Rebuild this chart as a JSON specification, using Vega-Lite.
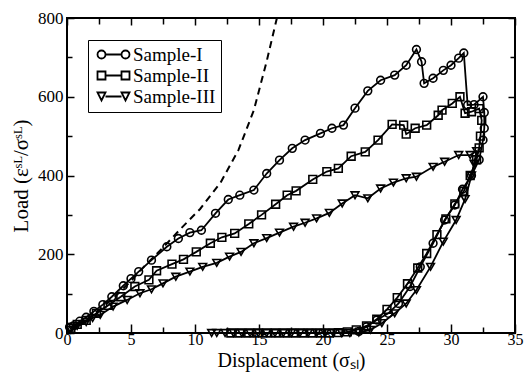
{
  "$schema": "https://vega.github.io/schema/vega-lite/v6.json",
  "autosize": {"type": "none"},
  "padding": {"left": 67, "top": 18, "right": 10, "bottom": 41},
  "width": 448,
  "height": 315,
  "background": "white",
  "config": {
    "view": {"stroke": "black", "strokeWidth": 2},
    "axis": {
      "labelFont": "Liberation Serif, Times New Roman, serif", "labelFontSize": 17, "labelColor": "black",
      "titleFont": "Liberation Serif, Times New Roman, serif", "titleFontSize": 21, "titleFontWeight": "normal", "titleColor": "black",
      "tickColor": "black", "tickWidth": 1.5, "domain": false, "grid": false,
      "labelFlush": false, "labelOverlap": false
    },
    "legend": {
      "labelFont": "Liberation Serif, Times New Roman, serif", "labelFontSize": 19, "labelColor": "black"
    }
  },
  "datasets": {
    "dash": [
      {"x": 0, "y": 0}, {"x": 1, "y": 22}, {"x": 2, "y": 45}, {"x": 3, "y": 72}, {"x": 4, "y": 100},
      {"x": 5, "y": 132}, {"x": 6, "y": 168}, {"x": 7.5, "y": 217}, {"x": 8.8, "y": 262},
      {"x": 10.4, "y": 315}, {"x": 12.0, "y": 382}, {"x": 13.4, "y": 465}, {"x": 14.6, "y": 566},
      {"x": 15.6, "y": 690}, {"x": 16.4, "y": 800}
    ],
    "samples": [
      {"s": "Sample-I", "i": 1, "x": 0.2, "y": 15},
      {"s": "Sample-I", "i": 2, "x": 0.5, "y": 18},
      {"s": "Sample-I", "i": 3, "x": 1.0, "y": 30},
      {"s": "Sample-I", "i": 4, "x": 1.5, "y": 40},
      {"s": "Sample-I", "i": 5, "x": 2.1, "y": 55},
      {"s": "Sample-I", "i": 6, "x": 2.8, "y": 72},
      {"s": "Sample-I", "i": 7, "x": 3.5, "y": 92},
      {"s": "Sample-I", "i": 8, "x": 4.4, "y": 120},
      {"s": "Sample-I", "i": 9, "x": 5.0, "y": 138},
      {"s": "Sample-I", "i": 10, "x": 5.6, "y": 156},
      {"s": "Sample-I", "i": 11, "x": 6.6, "y": 185},
      {"s": "Sample-I", "i": 12, "x": 7.8, "y": 219},
      {"s": "Sample-I", "i": 13, "x": 8.7, "y": 240},
      {"s": "Sample-I", "i": 14, "x": 9.6, "y": 255},
      {"s": "Sample-I", "i": 15, "x": 10.5, "y": 261},
      {"s": "Sample-I", "i": 16, "x": 11.6, "y": 304},
      {"s": "Sample-I", "i": 17, "x": 12.6, "y": 339},
      {"s": "Sample-I", "i": 18, "x": 13.5, "y": 350},
      {"s": "Sample-I", "i": 19, "x": 14.6, "y": 363},
      {"s": "Sample-I", "i": 20, "x": 15.6, "y": 405},
      {"s": "Sample-I", "i": 21, "x": 16.6, "y": 439},
      {"s": "Sample-I", "i": 22, "x": 17.6, "y": 469},
      {"s": "Sample-I", "i": 23, "x": 18.6, "y": 490},
      {"s": "Sample-I", "i": 24, "x": 19.8, "y": 507},
      {"s": "Sample-I", "i": 25, "x": 20.7, "y": 520},
      {"s": "Sample-I", "i": 26, "x": 21.6, "y": 528},
      {"s": "Sample-I", "i": 27, "x": 22.5, "y": 571},
      {"s": "Sample-I", "i": 28, "x": 23.5, "y": 615},
      {"s": "Sample-I", "i": 29, "x": 24.5, "y": 642},
      {"s": "Sample-I", "i": 30, "x": 25.6, "y": 655},
      {"s": "Sample-I", "i": 31, "x": 26.5, "y": 680},
      {"s": "Sample-I", "i": 32, "x": 27.3, "y": 720},
      {"s": "Sample-I", "i": 33, "x": 27.7, "y": 689},
      {"s": "Sample-I", "i": 34, "x": 27.9, "y": 634},
      {"s": "Sample-I", "i": 35, "x": 28.6, "y": 647},
      {"s": "Sample-I", "i": 36, "x": 29.4, "y": 667},
      {"s": "Sample-I", "i": 37, "x": 30.0, "y": 680},
      {"s": "Sample-I", "i": 38, "x": 30.6, "y": 698},
      {"s": "Sample-I", "i": 39, "x": 31.0, "y": 711},
      {"s": "Sample-I", "i": 40, "x": 31.3, "y": 579},
      {"s": "Sample-I", "i": 41, "x": 31.8, "y": 580},
      {"s": "Sample-I", "i": 42, "x": 32.5, "y": 600},
      {"s": "Sample-I", "i": 43, "x": 32.6, "y": 560},
      {"s": "Sample-I", "i": 44, "x": 32.6, "y": 520},
      {"s": "Sample-I", "i": 45, "x": 32.5, "y": 490},
      {"s": "Sample-I", "i": 46, "x": 32.2, "y": 440},
      {"s": "Sample-I", "i": 47, "x": 31.6, "y": 400},
      {"s": "Sample-I", "i": 48, "x": 30.9, "y": 365},
      {"s": "Sample-I", "i": 49, "x": 30.3, "y": 325},
      {"s": "Sample-I", "i": 50, "x": 29.5, "y": 287},
      {"s": "Sample-I", "i": 51, "x": 28.6, "y": 228},
      {"s": "Sample-I", "i": 52, "x": 27.6, "y": 168},
      {"s": "Sample-I", "i": 53, "x": 26.8, "y": 118},
      {"s": "Sample-I", "i": 54, "x": 25.9, "y": 75},
      {"s": "Sample-I", "i": 55, "x": 25.1, "y": 50},
      {"s": "Sample-I", "i": 56, "x": 24.2, "y": 33},
      {"s": "Sample-I", "i": 57, "x": 23.4, "y": 16},
      {"s": "Sample-I", "i": 58, "x": 22.8, "y": 4},

      {"s": "Sample-II", "i": 1, "x": 0.3, "y": 12},
      {"s": "Sample-II", "i": 2, "x": 0.8, "y": 22},
      {"s": "Sample-II", "i": 3, "x": 1.5, "y": 32},
      {"s": "Sample-II", "i": 4, "x": 2.3, "y": 50},
      {"s": "Sample-II", "i": 5, "x": 3.2, "y": 70},
      {"s": "Sample-II", "i": 6, "x": 4.2, "y": 92},
      {"s": "Sample-II", "i": 7, "x": 5.3, "y": 118},
      {"s": "Sample-II", "i": 8, "x": 6.4, "y": 135},
      {"s": "Sample-II", "i": 9, "x": 7.0, "y": 158},
      {"s": "Sample-II", "i": 10, "x": 8.2, "y": 175},
      {"s": "Sample-II", "i": 11, "x": 9.1, "y": 187},
      {"s": "Sample-II", "i": 12, "x": 10.1, "y": 206},
      {"s": "Sample-II", "i": 13, "x": 11.2, "y": 228},
      {"s": "Sample-II", "i": 14, "x": 12.1, "y": 243},
      {"s": "Sample-II", "i": 15, "x": 13.1, "y": 253},
      {"s": "Sample-II", "i": 16, "x": 14.2, "y": 277},
      {"s": "Sample-II", "i": 17, "x": 15.2, "y": 300},
      {"s": "Sample-II", "i": 18, "x": 16.3, "y": 327},
      {"s": "Sample-II", "i": 19, "x": 17.2, "y": 350},
      {"s": "Sample-II", "i": 20, "x": 17.9, "y": 361},
      {"s": "Sample-II", "i": 21, "x": 19.2, "y": 390},
      {"s": "Sample-II", "i": 22, "x": 20.3, "y": 410},
      {"s": "Sample-II", "i": 23, "x": 21.2, "y": 418},
      {"s": "Sample-II", "i": 24, "x": 22.2, "y": 449},
      {"s": "Sample-II", "i": 25, "x": 23.3, "y": 460},
      {"s": "Sample-II", "i": 26, "x": 24.3, "y": 490},
      {"s": "Sample-II", "i": 27, "x": 25.4, "y": 530},
      {"s": "Sample-II", "i": 28, "x": 26.3, "y": 528},
      {"s": "Sample-II", "i": 29, "x": 26.5, "y": 505},
      {"s": "Sample-II", "i": 30, "x": 27.2, "y": 520},
      {"s": "Sample-II", "i": 31, "x": 28.1, "y": 528},
      {"s": "Sample-II", "i": 32, "x": 29.0, "y": 553},
      {"s": "Sample-II", "i": 33, "x": 29.3, "y": 566},
      {"s": "Sample-II", "i": 34, "x": 30.1, "y": 583},
      {"s": "Sample-II", "i": 35, "x": 30.7, "y": 600},
      {"s": "Sample-II", "i": 36, "x": 31.1, "y": 558},
      {"s": "Sample-II", "i": 37, "x": 31.6, "y": 562},
      {"s": "Sample-II", "i": 38, "x": 32.2, "y": 570},
      {"s": "Sample-II", "i": 39, "x": 32.4, "y": 540},
      {"s": "Sample-II", "i": 40, "x": 32.3, "y": 500},
      {"s": "Sample-II", "i": 41, "x": 32.2, "y": 470},
      {"s": "Sample-II", "i": 42, "x": 32.0, "y": 440},
      {"s": "Sample-II", "i": 43, "x": 31.5, "y": 400},
      {"s": "Sample-II", "i": 44, "x": 31.0, "y": 360},
      {"s": "Sample-II", "i": 45, "x": 30.3, "y": 328},
      {"s": "Sample-II", "i": 46, "x": 29.6, "y": 290},
      {"s": "Sample-II", "i": 47, "x": 28.9, "y": 250},
      {"s": "Sample-II", "i": 48, "x": 28.1, "y": 202},
      {"s": "Sample-II", "i": 49, "x": 27.4, "y": 165},
      {"s": "Sample-II", "i": 50, "x": 26.6, "y": 125},
      {"s": "Sample-II", "i": 51, "x": 25.8, "y": 90},
      {"s": "Sample-II", "i": 52, "x": 25.0, "y": 60},
      {"s": "Sample-II", "i": 53, "x": 24.2, "y": 35},
      {"s": "Sample-II", "i": 54, "x": 23.4, "y": 18},
      {"s": "Sample-II", "i": 55, "x": 22.6, "y": 8},
      {"s": "Sample-II", "i": 56, "x": 21.9, "y": 3},
      {"s": "Sample-II", "i": 57, "x": 21.2, "y": 1},
      {"s": "Sample-II", "i": 58, "x": 20.5, "y": 0},
      {"s": "Sample-II", "i": 59, "x": 19.8, "y": 0},
      {"s": "Sample-II", "i": 60, "x": 19.1, "y": 0},
      {"s": "Sample-II", "i": 61, "x": 18.4, "y": 0},
      {"s": "Sample-II", "i": 62, "x": 17.7, "y": 0},
      {"s": "Sample-II", "i": 63, "x": 17.0, "y": 0},
      {"s": "Sample-II", "i": 64, "x": 16.3, "y": 0},
      {"s": "Sample-II", "i": 65, "x": 15.6, "y": 0},
      {"s": "Sample-II", "i": 66, "x": 14.9, "y": 0},
      {"s": "Sample-II", "i": 67, "x": 14.2, "y": 0},
      {"s": "Sample-II", "i": 68, "x": 13.5, "y": 0},
      {"s": "Sample-II", "i": 69, "x": 12.8, "y": 0},

      {"s": "Sample-III", "i": 1, "x": 0.3, "y": 8},
      {"s": "Sample-III", "i": 2, "x": 0.8, "y": 18},
      {"s": "Sample-III", "i": 3, "x": 1.5, "y": 28},
      {"s": "Sample-III", "i": 4, "x": 2.0, "y": 38},
      {"s": "Sample-III", "i": 5, "x": 2.6, "y": 46},
      {"s": "Sample-III", "i": 6, "x": 3.6, "y": 67},
      {"s": "Sample-III", "i": 7, "x": 4.7, "y": 84},
      {"s": "Sample-III", "i": 8, "x": 5.7, "y": 101},
      {"s": "Sample-III", "i": 9, "x": 6.6, "y": 111},
      {"s": "Sample-III", "i": 10, "x": 7.5, "y": 126},
      {"s": "Sample-III", "i": 11, "x": 8.5, "y": 143},
      {"s": "Sample-III", "i": 12, "x": 9.6, "y": 156},
      {"s": "Sample-III", "i": 13, "x": 10.6, "y": 168},
      {"s": "Sample-III", "i": 14, "x": 11.7, "y": 178},
      {"s": "Sample-III", "i": 15, "x": 12.7, "y": 194},
      {"s": "Sample-III", "i": 16, "x": 13.6, "y": 206},
      {"s": "Sample-III", "i": 17, "x": 14.6, "y": 228},
      {"s": "Sample-III", "i": 18, "x": 15.6, "y": 241},
      {"s": "Sample-III", "i": 19, "x": 16.6, "y": 255},
      {"s": "Sample-III", "i": 20, "x": 17.7, "y": 270},
      {"s": "Sample-III", "i": 21, "x": 18.6, "y": 280},
      {"s": "Sample-III", "i": 22, "x": 19.5, "y": 291},
      {"s": "Sample-III", "i": 23, "x": 20.5, "y": 305},
      {"s": "Sample-III", "i": 24, "x": 21.5, "y": 329},
      {"s": "Sample-III", "i": 25, "x": 22.5, "y": 350},
      {"s": "Sample-III", "i": 26, "x": 23.5, "y": 342},
      {"s": "Sample-III", "i": 27, "x": 24.5, "y": 367},
      {"s": "Sample-III", "i": 28, "x": 25.5, "y": 382},
      {"s": "Sample-III", "i": 29, "x": 26.5, "y": 393},
      {"s": "Sample-III", "i": 30, "x": 27.3, "y": 397},
      {"s": "Sample-III", "i": 31, "x": 28.6, "y": 422},
      {"s": "Sample-III", "i": 32, "x": 29.5, "y": 435},
      {"s": "Sample-III", "i": 33, "x": 30.6, "y": 452},
      {"s": "Sample-III", "i": 34, "x": 31.5, "y": 452},
      {"s": "Sample-III", "i": 35, "x": 32.0, "y": 462},
      {"s": "Sample-III", "i": 36, "x": 31.8, "y": 430},
      {"s": "Sample-III", "i": 37, "x": 31.6, "y": 400},
      {"s": "Sample-III", "i": 38, "x": 31.1, "y": 340},
      {"s": "Sample-III", "i": 39, "x": 30.4, "y": 287},
      {"s": "Sample-III", "i": 40, "x": 29.4, "y": 232},
      {"s": "Sample-III", "i": 41, "x": 28.4, "y": 168},
      {"s": "Sample-III", "i": 42, "x": 27.3, "y": 109},
      {"s": "Sample-III", "i": 43, "x": 26.5, "y": 75},
      {"s": "Sample-III", "i": 44, "x": 25.6, "y": 50},
      {"s": "Sample-III", "i": 45, "x": 24.6, "y": 25},
      {"s": "Sample-III", "i": 46, "x": 23.7, "y": 8},
      {"s": "Sample-III", "i": 47, "x": 22.8, "y": 1},
      {"s": "Sample-III", "i": 48, "x": 22.1, "y": 0},
      {"s": "Sample-III", "i": 49, "x": 21.45, "y": 0},
      {"s": "Sample-III", "i": 50, "x": 20.8, "y": 0},
      {"s": "Sample-III", "i": 51, "x": 20.15, "y": 0},
      {"s": "Sample-III", "i": 52, "x": 19.5, "y": 0},
      {"s": "Sample-III", "i": 53, "x": 18.85, "y": 0},
      {"s": "Sample-III", "i": 54, "x": 18.2, "y": 0},
      {"s": "Sample-III", "i": 55, "x": 17.55, "y": 0},
      {"s": "Sample-III", "i": 56, "x": 16.9, "y": 0},
      {"s": "Sample-III", "i": 57, "x": 16.25, "y": 0},
      {"s": "Sample-III", "i": 58, "x": 15.6, "y": 0},
      {"s": "Sample-III", "i": 59, "x": 14.95, "y": 0},
      {"s": "Sample-III", "i": 60, "x": 14.3, "y": 0},
      {"s": "Sample-III", "i": 61, "x": 13.65, "y": 0},
      {"s": "Sample-III", "i": 62, "x": 13.0, "y": 0},
      {"s": "Sample-III", "i": 63, "x": 12.35, "y": 0},
      {"s": "Sample-III", "i": 64, "x": 11.7, "y": 0},
      {"s": "Sample-III", "i": 65, "x": 11.3, "y": 0}
    ]
  },
  "resolve": {"axis": {"x": "independent", "y": "independent"}, "scale": {"shape": "independent"}},
  "layer": [
    {
      "data": {"name": "dash"},
      "mark": {"type": "line", "color": "black", "strokeWidth": 2, "strokeDash": [7, 5], "clip": true},
      "encoding": {
        "x": {
          "field": "x", "type": "quantitative",
          "scale": {"domain": [0, 35], "nice": false, "zero": false},
          "axis": {
            "orient": "bottom",
            "values": [0, 2.5, 5, 7.5, 10, 12.5, 15, 17.5, 20, 22.5, 25, 27.5, 30, 32.5, 35],
            "labelExpr": "datum.value % 5 === 0 ? datum.label : ''",
            "tickSize": {"condition": {"test": "datum.value % 5 === 0", "value": -9}, "value": -6},
            "labelPadding": 7,
            "labelFontSize": 16,
            "title": "Displacement (σₛₗ)",
            "titleFontSize": 20,
            "titlePadding": 0
          }
        },
        "y": {
          "field": "y", "type": "quantitative",
          "scale": {"domain": [0, 800], "nice": false},
          "axis": {
            "orient": "left",
            "values": [0, 100, 200, 300, 400, 500, 600, 700, 800],
            "labelExpr": "datum.value % 200 === 0 ? datum.label : ''",
            "tickSize": {"condition": {"test": "datum.value % 200 === 0", "value": -7}, "value": -5},
            "labelPadding": 11,
            "title": "Load (εˢᴸ/σˢᴸ)",
            "titlePadding": 6
          }
        }
      }
    },
    {
      "data": {"name": "samples"},
      "mark": {"type": "line", "color": "black", "strokeWidth": 1.8},
      "encoding": {
        "x": {
          "field": "x", "type": "quantitative",
          "scale": {"domain": [0, 35], "nice": false, "zero": false},
          "axis": {
            "orient": "top",
            "values": [0, 2.5, 5, 7.5, 10, 12.5, 15, 17.5, 20, 22.5, 25, 27.5, 30, 32.5, 35],
            "labels": false, "title": null,
            "tickSize": {"condition": {"test": "datum.value % 5 === 0", "value": -7}, "value": -6}
          }
        },
        "y": {
          "field": "y", "type": "quantitative",
          "scale": {"domain": [0, 800], "nice": false},
          "axis": {
            "orient": "right",
            "values": [0, 100, 200, 300, 400, 500, 600, 700, 800],
            "labels": false, "title": null,
            "tickSize": {"condition": {"test": "datum.value % 200 === 0", "value": -7}, "value": -5}
          }
        },
        "detail": {"field": "s"},
        "order": {"field": "i", "type": "quantitative"}
      }
    },
    {
      "data": {"name": "samples"},
      "mark": {"type": "point", "filled": false, "color": "black", "strokeWidth": 1.6, "size": 60, "opacity": 1},
      "encoding": {
        "x": {"field": "x", "type": "quantitative", "scale": {"domain": [0, 35], "nice": false, "zero": false}, "axis": null},
        "y": {"field": "y", "type": "quantitative", "scale": {"domain": [0, 800], "nice": false}, "axis": null},
        "shape": {
          "field": "s", "type": "nominal",
          "scale": {"domain": ["Sample-I", "Sample-II", "Sample-III"], "range": ["circle", "square", "triangle-down"]},
          "legend": null
        }
      }
    },
    {
      "data": {"name": "samples"},
      "transform": [{"filter": "datum.x < -100"}],
      "mark": {"type": "point", "filled": false, "color": "black", "strokeWidth": 1.8, "opacity": 1},
      "encoding": {
        "x": {"field": "x", "type": "quantitative", "scale": {"domain": [0, 35], "nice": false, "zero": false}, "axis": null},
        "y": {"field": "y", "type": "quantitative", "scale": {"domain": [0, 800], "nice": false}, "axis": null},
        "shape": {
          "field": "s", "type": "nominal",
          "scale": {
            "domain": ["Sample-I", "Sample-II", "Sample-III"],
            "range": [
              "M-5,0A1,1,0,1,0,-3,0A1,1,0,1,0,-5,0M-3,0L1,0M1,0A1,1,0,1,0,3,0A1,1,0,1,0,1,0",
              "M-5,-1H-3V1H-5ZM-3,0H1M1,-1H3V1H1Z",
              "M-5,-1H-3L-4,1ZM-3,0H1M1,-1H3L2,1Z"
            ]
          },
          "legend": {
            "title": null,
            "orient": "none",
            "legendX": 21,
            "legendY": 22,
            "padding": 5,
            "rowPadding": 1,
            "symbolSize": 64,
            "symbolOffset": 15,
            "labelOffset": 6,
            "symbolStrokeWidth": 1.8,
            "symbolStrokeColor": "black",
            "symbolFillColor": "transparent",
            "strokeColor": "black",
            "fillColor": "white",
            "encode": {
              "legend": {"update": {"strokeWidth": {"value": 2}}}
            }
          }
        }
      }
    }
  ]
}
